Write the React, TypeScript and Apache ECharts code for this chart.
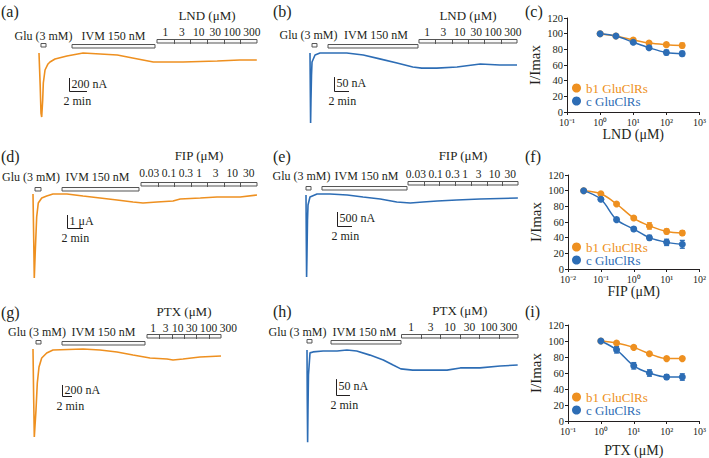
import React, { useEffect, useRef } from 'react';
import * as echarts from 'echarts';

const ORANGE = '#EE9020';
const BLUE = '#2D6DB5';
const INK = '#231F20';
const SERIF = 'Liberation Serif';

// ---- electrophysiology traces: [time (min), current (nA)] ----
const traceA = [[0,0],[0.13,-493],[0.22,-924],[0.3,-986],[0.41,-724],[0.48,-462],[0.67,-262],[1.0,-169],[1.22,-139],[1.78,-92],[3.1,-46],[4.9,0],[6.8,-15],[8.7,-31],[10.4,-77],[12.7,-139],[13.8,-139],[16.0,-139],[19.8,-123],[22.3,-108],[24.2,-108]];
const traceB = [[0,0],[0.04,-132],[0.08,-250],[0.13,-168],[0.2,-79],[0.27,-32],[0.67,-7],[1.33,0],[2.67,0],[4.9,0],[7.1,-7],[9.3,-21],[11.6,-36],[13.7,-50],[14.9,-54],[16.9,-54],[19.6,-50],[22.7,-39],[25.3,-43],[27.6,-43]];
const traceD = [[0,0],[0.09,-3542],[0.16,-6468],[0.29,-4312],[0.46,-1771],[0.66,-693],[1.09,-308],[1.71,-154],[2.5,0],[4.25,0],[6.25,-154],[8.38,-308],[10.5,-462],[12.5,-616],[13.75,-693],[15.5,-616],[17.5,-539],[18.4,-385],[20.9,-308],[23,-231],[25.9,-231],[28,-77]];
const traceE = [[0,0],[0.04,-1607],[0.08,-2927],[0.13,-2142],[0.2,-893],[0.27,-357],[0.53,-71],[1.47,36],[3.2,36],[5.5,0],[7.6,-71],[9.9,-143],[12.1,-250],[13.9,-286],[15.6,-250],[17.5,-214],[20.1,-178],[23.2,-143],[28.25,-107]];
const traceG = [[0,0],[0.14,-928],[0.26,-1602],[0.6,-1110],[0.86,-619],[1.2,-328],[1.74,-164],[2.74,-73],[4,-18],[10,0],[13.4,-18],[16.8,-55],[20,-109],[23.4,-164],[26.8,-182],[28,-200],[30,-182],[33.4,-146],[37.6,-127]];
const traceH = [[0,0],[0.04,-156],[0.09,-288],[0.14,-188],[0.21,-78],[0.43,-9],[0.86,-6],[2.3,-3],[4.3,-3],[5.7,0],[7.1,-3],[9,-16],[10.9,-31],[12.3,-47],[13.4,-59],[15.1,-63],[17.6,-63],[20,-63],[21.9,-56],[24.7,-56],[27.6,-50],[30.1,-47]];

// ---- drug application protocol: [start, end] in min ----
const gluA = [0.22, 0.78], ivmA = [3.67, 12.89], lndA = [13.11, 24.22];
const gluB = [0.27, 0.93], ivmB = [2.4, 14.4], lndB = [14.53, 27.6];
const gluD = [0.25, 1.0], ivmD = [3.63, 13.25], fipD = [13.5, 28];
const gluE = [0.0, 0.67], ivmE = [2.13, 13.47], fipE = [13.6, 28.27];
const gluG = [0.6, 1.6], ivmG = [5.8, 22.4], ptxG = [22.8, 37.6];
const gluH = [0.0, 0.71], ivmH = [3.43, 13.43], ptxH = [13.5, 30.14];

const lndConcs = ['1', '3', '10', '30', '100', '300'];
const fipConcs = ['0.03', '0.1', '0.3', '1', '3', '10', '30'];
const ptxConcs = ['1', '3', '10', '30', '100', '300'];

// ---- scale bars: corner [time, current] ----
const scaleA = [3.33, -585], scaleB = [3.2, -136], scaleD = [4.25, -2618];
const scaleE = [4.13, -1107], scaleG = [5.8, -855], scaleH = [4.14, -141];

// ---- concentration-response data (I/Imax %) ----
const lndDose = [1, 3, 10, 30, 100, 300];
const lndB1 = [100, 97, 92, 88, 86, 85];
const lndB1Err = [0, 1.5, 2, 2, 2.5, 3];
const lndC = [100, 97, 89, 82, 76, 74.5];
const lndCErr = [0, 1.5, 2, 2, 3, 3];

const fipDose = [0.03, 0.1, 0.3, 1, 3, 10, 30];
const fipB1 = [100, 96, 83, 65, 55, 48, 46];
const fipB1Err = [0, 1.5, 1.5, 2, 4, 3, 3];
const fipC = [100, 89, 63, 51, 40, 34, 31.5];
const fipCErr = [0, 2, 2, 2.5, 3, 4, 5];

const ptxDose = [1, 3, 10, 30, 100, 300];
const ptxB1 = [100, 97.5, 92, 84, 78, 78];
const ptxB1Err = [0, 1, 1.5, 1.5, 1.5, 1.5];
const ptxC = [100, 89, 69, 60, 55, 55];
const ptxCErr = [0, 4, 4, 4, 3, 4];

const B1_NAME = 'b1 GluClRs';
const C_NAME = 'c GluClRs';

const tracePanels = [
  { label: '(a)', lx: 1, ly: 11, trace: traceA, color: ORANGE, glu: gluA, ivm: ivmA, drug: lndA, concs: lndConcs, drugName: 'LND (μM)', scale: scaleA, scaleI: 200, scaleLabel: '200 nA', x0: 39, sx: 9, y0: 53, u: 15.4, right: 257, top: 38, bottom: 122, gluTop: 43, ivmTop: 44, drugTop: 39, labelY: 36, concY: 32, titleY: 15, gluDx: 0, ivmDx: 0 },
  { label: '(b)', lx: 273, ly: 11, trace: traceB, color: BLUE, glu: gluB, ivm: ivmB, drug: lndB, concs: lndConcs, drugName: 'LND (μM)', scale: scaleB, scaleI: 50, scaleLabel: '50 nA', x0: 310, sx: 7.5, y0: 53, u: 3.57, right: 517, top: 38, bottom: 128, gluTop: 43, ivmTop: 44, drugTop: 39, labelY: 35, concY: 32, titleY: 15, gluDx: -6, ivmDx: 3 },
  { label: '(d)', lx: 1, ly: 156, trace: traceD, color: ORANGE, glu: gluD, ivm: ivmD, drug: fipD, concs: fipConcs, drugName: 'FIP (μM)', scale: scaleD, scaleI: 1000, scaleLabel: '1 μA', x0: 33, sx: 8, y0: 194, u: 77, right: 257, top: 179, bottom: 283, gluTop: 187, ivmTop: 187, drugTop: 182, labelY: 177, concY: 173, titleY: 155, gluDx: -7, ivmDx: -3 },
  { label: '(e)', lx: 273, ly: 156, trace: traceE, color: BLUE, glu: gluE, ivm: ivmE, drug: fipE, concs: fipConcs, drugName: 'FIP (μM)', scale: scaleE, scaleI: 500, scaleLabel: '500 nA', x0: 306, sx: 7.5, y0: 195, u: 35.7, right: 518, top: 180, bottom: 282, gluTop: 186, ivmTop: 186, drugTop: 181, labelY: 176, concY: 174, titleY: 155, gluDx: -7, ivmDx: 2 },
  { label: '(g)', lx: 1, ly: 312, trace: traceG, color: ORANGE, glu: gluG, ivm: ivmG, drug: ptxG, concs: ptxConcs, drugName: 'PTX (μM)', scale: scaleG, scaleI: 200, scaleLabel: '200 nA', x0: 33, sx: 5, y0: 349, u: 18.2, right: 221, top: 334, bottom: 442, gluTop: 340, ivmTop: 341, drugTop: 334, labelY: 332, concY: 328, titleY: 311, gluDx: -1.5, ivmDx: 0 },
  { label: '(h)', lx: 273, ly: 311, trace: traceH, color: BLUE, glu: gluH, ivm: ivmH, drug: ptxH, concs: ptxConcs, drugName: 'PTX (μM)', scale: scaleH, scaleI: 50, scaleLabel: '50 nA', x0: 307, sx: 7, y0: 350, u: 3.125, right: 518, top: 335, bottom: 447, gluTop: 339, ivmTop: 340, drugTop: 334, labelY: 332, concY: 327, titleY: 310, gluDx: -12, ivmDx: -1.5 },
];

const dosePanels = [
  { label: '(c)', ly: 11, dose: lndDose, b1: lndB1, b1Err: lndB1Err, c: lndC, cErr: lndCErr, xName: 'LND (μM)', xmin: 0.1, xmax: 1000, left: 567, top: 18, height: 94, legendY: 88, nameGap: 13 },
  { label: '(f)', ly: 156, dose: fipDose, b1: fipB1, b1Err: fipB1Err, c: fipC, cErr: fipCErr, xName: 'FIP (μM)', xmin: 0.01, xmax: 100, left: 568, top: 175, height: 94, legendY: 247, nameGap: 14 },
  { label: '(i)', ly: 311, dose: ptxDose, b1: ptxB1, b1Err: ptxB1Err, c: ptxC, cErr: ptxCErr, xName: 'PTX (μM)', xmin: 0.1, xmax: 1000, left: 568, top: 325, height: 96, legendY: 397, nameGap: 22 },
];

const SUP: Record<string, string> = { '-': '⁻', '0': '⁰', '1': '¹', '2': '²', '3': '³' };
const supFmt = (v: number) => '10' + String(Math.round(Math.log10(v))).split('').map((c) => SUP[c] || c).join('');

const CONC_FS = 11.5;
const textW = (s: string, fs: number) => s.split('').reduce((w, ch) => w + (ch === '.' ? 0.25 : 0.5) * fs, 0);

function txt(text: string, x: number, y: number, size: number, align = 'center') {
  return { type: 'text', style: { text, x, y, align, verticalAlign: 'middle', fontSize: size, fontFamily: SERIF, fontWeight: 'normal', fill: INK } };
}

function buildOption() {
  const grid: any[] = [];
  const xAxis: any[] = [];
  const yAxis: any[] = [];
  const series: any[] = [];
  const legend: any[] = [];
  const graphic: any[] = [];

  tracePanels.forEach((p) => {
    const gi = grid.length;
    grid.push({ left: p.x0, top: p.top, width: p.right - p.x0, height: p.bottom - p.top, containLabel: false });
    xAxis.push({ gridIndex: gi, type: 'value', show: false, min: 0, max: (p.right - p.x0) / p.sx });
    yAxis.push({ gridIndex: gi, type: 'value', show: false, min: -(p.bottom - p.y0) * p.u, max: (p.y0 - p.top) * p.u, scale: true });
    series.push({
      type: 'line', xAxisIndex: gi, yAxisIndex: gi, data: p.trace, showSymbol: false, symbol: 'none',
      lineStyle: { color: p.color, width: 1.6 }, silent: true, clip: false,
    });
    const segs = [p.glu, p.ivm, p.drug];
    series.push({
      type: 'custom', xAxisIndex: gi, yAxisIndex: gi, clip: false, silent: true,
      data: segs.map((s) => [s[0], 0, s[1]]),
      encode: { x: [0, 2], y: 1 },
      renderItem: (params: any, api: any) => {
        const a = api.coord([api.value(0), 0])[0];
        const b = api.coord([api.value(2), 0])[0];
        const k = params.dataIndex;
        const boxStyle = { fill: '#fafafa', stroke: '#555', lineWidth: 1 };
        const children: any[] = [];
        if (k === 0) {
          children.push({ type: 'rect', shape: { x: a, y: p.gluTop + 0.5, width: b - a, height: 3.5 }, style: boxStyle });
          children.push(txt('Glu (3 mM)', (a + b) / 2 + p.gluDx, p.labelY, 12));
        } else if (k === 1) {
          children.push({ type: 'rect', shape: { x: a, y: p.ivmTop + 0.5, width: b - a, height: 3.5 }, style: boxStyle });
          children.push(txt('IVM 150 nM', (a + b) / 2 + p.ivmDx, p.labelY, 12));
        } else {
          const n = p.concs.length;
          children.push({ type: 'rect', shape: { x: a, y: p.drugTop + 0.5, width: b - a, height: 3.5 }, style: boxStyle });
          for (let i = 1; i < n; i++) {
            const xx = Math.round(a + ((b - a) * i) / n) + 0.5;
            children.push({ type: 'line', shape: { x1: xx, y1: p.drugTop + 0.5, x2: xx, y2: p.drugTop + 5 }, style: { stroke: '#555', lineWidth: 1 } });
          }
          // labels centred on their segments, pushed right when they would collide
          let prevRight = -Infinity;
          p.concs.forEach((c, i) => {
            const w = textW(c, CONC_FS);
            const centre = a + ((b - a) * (i + 0.5)) / n;
            const left = Math.max(centre - w / 2, prevRight + 2.5);
            prevRight = left + w;
            children.push(txt(c, left, p.concY, CONC_FS, 'left'));
          });
          children.push(txt(p.drugName, (a + b) / 2, p.titleY, 13));
        }
        return { type: 'group', children };
      },
    });
    series.push({
      type: 'custom', xAxisIndex: gi, yAxisIndex: gi, clip: false, silent: true,
      data: [p.scale],
      renderItem: (params: any, api: any) => {
        const t = api.value(0), I = api.value(1);
        const c = api.coord([t, I]);
        const up = api.coord([t, I + p.scaleI]);
        const rt = api.coord([t + 2, I]);
        const x = Math.round(c[0]) + 0.5, y = Math.round(c[1]) + 0.5;
        return {
          type: 'group',
          children: [
            { type: 'polyline', shape: { points: [[x, up[1]], [x, y], [rt[0], y]] }, style: { stroke: INK, lineWidth: 1, fill: null } },
            txt(p.scaleLabel, x + 2, (up[1] + y) / 2 - 1, 12, 'left'),
            txt('2 min', x - 6, y + 9, 12, 'left'),
          ],
        };
      },
    });
    graphic.push({ type: 'text', x: p.lx, y: p.ly, style: { text: p.label, fontSize: 16, fontFamily: SERIF, fontWeight: 'normal', fill: INK, verticalAlign: 'middle' } });
  });

  dosePanels.forEach((p) => {
    const gi = grid.length;
    grid.push({ left: p.left, top: p.top, width: 700 - p.left, height: p.height, containLabel: false });
    xAxis.push({
      gridIndex: gi, type: 'log', logBase: 10, min: p.xmin, max: p.xmax,
      name: p.xName, nameLocation: 'middle', nameGap: p.nameGap,
      nameTextStyle: { fontFamily: SERIF, fontSize: 14, fontWeight: 'normal', color: INK, verticalAlign: 'top' },
      axisLine: { show: true, lineStyle: { color: INK, width: 1 } },
      axisTick: { show: true, length: 3, lineStyle: { color: INK } },
      minorTick: { show: false }, splitLine: { show: false },
      axisLabel: { formatter: supFmt, fontFamily: SERIF, fontSize: 10, color: INK, margin: 5 },
    });
    yAxis.push({
      gridIndex: gi, type: 'value', min: 0, max: 120, interval: 20,
      name: 'I/Imax', nameLocation: 'middle', nameGap: 25, nameRotate: 90,
      nameTextStyle: { fontFamily: SERIF, fontSize: 15, fontWeight: 'normal', color: INK },
      axisLine: { show: true, lineStyle: { color: INK, width: 1 } },
      axisTick: { show: true, length: 3, lineStyle: { color: INK } },
      splitLine: { show: false },
      axisLabel: { fontFamily: SERIF, fontSize: 10.5, color: INK, margin: 4, verticalAlign: 'middle', lineHeight: 10 },
    });
    const groups = [
      { name: B1_NAME, color: ORANGE, v: p.b1, e: p.b1Err },
      { name: C_NAME, color: BLUE, v: p.c, e: p.cErr },
    ];
    groups.forEach((g, gk) => {
      series.push({
        type: 'custom', xAxisIndex: gi, yAxisIndex: gi, silent: true, clip: false, z: 2,
        data: p.dose.map((d, i) => [d, g.v[i] - g.e[i], g.v[i] + g.e[i]]),
        encode: { x: 0, y: [1, 2] },
        renderItem: (params: any, api: any) => {
          const lo = api.coord([api.value(0), api.value(1)]);
          const hi = api.coord([api.value(0), api.value(2)]);
          if (Math.abs(lo[1] - hi[1]) < 1) return null;
          const st = { stroke: g.color, lineWidth: 1.3 };
          return {
            type: 'group',
            children: [
              { type: 'line', shape: { x1: lo[0], y1: lo[1], x2: hi[0], y2: hi[1] }, style: st },
              { type: 'line', shape: { x1: lo[0] - 2.5, y1: lo[1], x2: lo[0] + 2.5, y2: lo[1] }, style: st },
              { type: 'line', shape: { x1: hi[0] - 2.5, y1: hi[1], x2: hi[0] + 2.5, y2: hi[1] }, style: st },
            ],
          };
        },
      });
      series.push({
        type: 'line', name: g.name, xAxisIndex: gi, yAxisIndex: gi, z: 3,
        data: p.dose.map((d, i) => [d, g.v[i]]),
        smooth: 0.35, symbol: 'circle', symbolSize: 7, showSymbol: true,
        lineStyle: { color: g.color, width: 1.5 }, itemStyle: { color: g.color },
        silent: true,
      });
      legend.push({
        left: 572, top: p.legendY + gk * 13 - 6.5, orient: 'vertical', icon: 'circle', itemWidth: 9, itemHeight: 9,
        padding: 0, itemGap: 0, selectedMode: false, itemStyle: { color: g.color },
        textStyle: { fontFamily: SERIF, fontSize: 13, fontWeight: 'normal', color: g.color, lineHeight: 12 },
        data: [g.name],
      });
    });
    graphic.push({ type: 'text', x: 525, y: p.ly, style: { text: p.label, fontSize: 16, fontFamily: SERIF, fontWeight: 'normal', fill: INK, verticalAlign: 'middle' } });
  });

  return { animation: false, backgroundColor: '#ffffff', grid, xAxis, yAxis, series, legend, graphic };
}

export default function App() {
  const ref = useRef<HTMLDivElement>(null);
  useEffect(() => {
    if (!ref.current) return;
    const chart = echarts.init(ref.current, null, { renderer: 'svg' });
    chart.setOption(buildOption() as any);
    return () => chart.dispose();
  }, []);
  return <div ref={ref} style={{ position: 'absolute', left: 0, top: 0, width: 709, height: 458, background: '#fff' }} />;
}
